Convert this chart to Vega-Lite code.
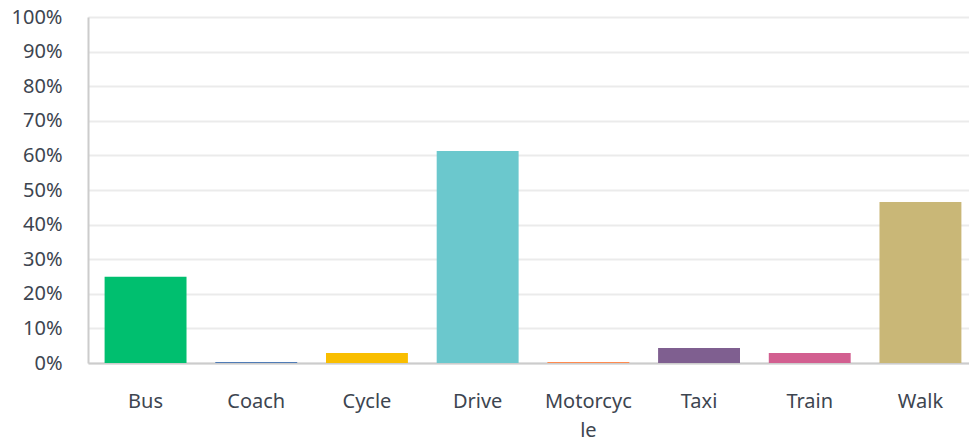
{
  "$schema": "https://vega.github.io/schema/vega-lite/v6.json",
  "width": 890,
  "height": 346,
  "autosize": "none",
  "padding": {"left": 88, "top": 17, "right": 0, "bottom": 74},
  "background": "white",
  "config": {
    "view": {"stroke": null},
    "font": "Noto Sans"
  },
  "data": {
    "values": [
      {"mode": "Bus", "pct": 24.9},
      {"mode": "Coach", "pct": 0.3},
      {"mode": "Cycle", "pct": 2.9},
      {"mode": "Drive", "pct": 61.3},
      {"mode": "Motorcycle", "pct": 0.3},
      {"mode": "Taxi", "pct": 4.3},
      {"mode": "Train", "pct": 2.9},
      {"mode": "Walk", "pct": 46.5}
    ]
  },
  "mark": {"type": "bar"},
  "encoding": {
    "x": {
      "field": "mode",
      "type": "nominal",
      "sort": null,
      "scale": {"paddingInner": 0.26, "paddingOuter": 0.15},
      "axis": {
        "title": null,
        "labelAngle": 0,
        "labelFontSize": 20,
        "labelColor": "#3d4550",
        "labelPadding": 38,
        "ticks": false,
        "domainColor": "#cccccc",
        "domainWidth": 2,
        "labelExpr": "datum.label == 'Motorcycle' ? ['Motorcyc', 'le'] : datum.label",
        "labelLineHeight": 29,
        "labelBaseline": "middle"
      }
    },
    "y": {
      "field": "pct",
      "type": "quantitative",
      "scale": {"domain": [0, 100]},
      "axis": {
        "title": null,
        "values": [0, 10, 20, 30, 40, 50, 60, 70, 80, 90, 100],
        "labelExpr": "datum.value + '%'",
        "labelFontSize": 20,
        "labelColor": "#3d4550",
        "labelPadding": 26,
        "ticks": false,
        "domainColor": "#cccccc",
        "domainWidth": 2,
        "gridColor": "#ebebeb",
        "gridWidth": 2
      }
    },
    "color": {
      "field": "mode",
      "type": "nominal",
      "sort": null,
      "legend": null,
      "scale": {
        "domain": ["Bus", "Coach", "Cycle", "Drive", "Motorcycle", "Taxi", "Train", "Walk"],
        "range": ["#00bf6f", "#507cb6", "#f9be00", "#6bc8cd", "#ff8b4f", "#7f5f90", "#d25f90", "#c9b777"]
      }
    }
  }
}
